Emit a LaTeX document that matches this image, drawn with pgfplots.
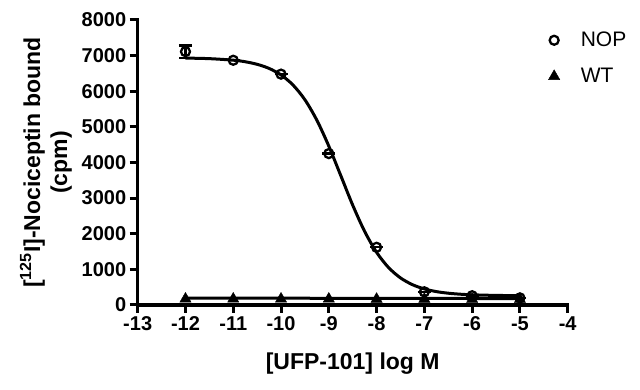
\documentclass[border=0pt]{standalone}
\usepackage{fontspec}
\setmainfont{Liberation Sans}
\usepackage{pgfplots}
\pgfplotsset{compat=1.18}
\pgfplotstableread{
x y err
-12 7112 170
-11 6870 0
-10 6480 0
-9 4250 0
-8 1620 0
-7 370 0
-6 260 0
-5 200 0
}\nopdata
\pgfplotstableread{
x y
-12 170
-11 170
-10 170
-9 170
-8 165
-7 165
-6 160
-5 160
}\wtdata
\begin{document}
\begin{tikzpicture}
\begin{axis}[
  at={(0,0)}, anchor=south west,
  scale only axis, width=430pt, height=285pt,
  xmin=-13, xmax=-4, ymin=0, ymax=8000,
  clip=false,
  axis lines=left,
  axis line style={-, line width=3.5pt, line cap=rect},
  xtick={-13,-12,...,-4},
  ytick={0,1000,...,8000},
  tick align=outside,
  major tick length=8pt,
  tick style={line width=3pt, black},
  /pgf/number format/assume math mode=true,
  /pgf/number format/1000 sep={},
  tick label style={font=\fontsize{20}{24}\selectfont\bfseries},
  xlabel={[UFP-101] log M},
  ylabel={[\textsuperscript{125}I]-Nociceptin bound\\(cpm)},
  label style={font=\fontsize{23}{27}\selectfont\bfseries, align=center},
  xlabel style={yshift=-15pt},
  ylabel style={yshift=3pt},
  legend style={draw=none, fill=none, at={(rel axis cs:0.948,0.972)}, anchor=north west,
    font=\fontsize{21}{25}\selectfont, row sep=16pt, column sep=19pt},
  legend cell align=left,
]
\addplot[black, line width=3pt, smooth, forget plot] coordinates {
(-12,6931) (-11.5,6915) (-11,6872) (-10.75,6828) (-10.5,6756) (-10.25,6641)
(-10,6458) (-9.75,6176) (-9.5,5761) (-9.25,5187) (-9,4460) (-8.75,3634)
(-8.5,2804) (-8.25,2066) (-8,1479) (-7.75,1052) (-7.5,761) (-7.25,571)
(-7,451) (-6.75,376) (-6.5,331) (-6.25,303) (-6,286) (-5.5,269) (-5,263)};
\addplot[black, line width=3pt, forget plot] coordinates {(-12,195) (-5,180)};
\addplot[only marks, mark=o, mark size=4.5pt, mark options={line width=2.3pt, fill=white},
  error bars/.cd, y dir=both, y explicit,
  error mark options={rotate=90, mark size=6.5pt, line width=2.3pt},
  error bar style={line width=2.3pt}]
  table[x=x, y=y, y error=err] {\nopdata};
\addlegendentry{NOP}
\addplot[only marks, mark=triangle*, mark size=6.5pt, black]
  table[x=x, y=y] {\wtdata};
\addlegendentry{WT}
\end{axis}
\pgfresetboundingbox
\useasboundingbox (-137.7pt,-85pt) rectangle (502.3pt,305pt);
\end{tikzpicture}
\end{document}
